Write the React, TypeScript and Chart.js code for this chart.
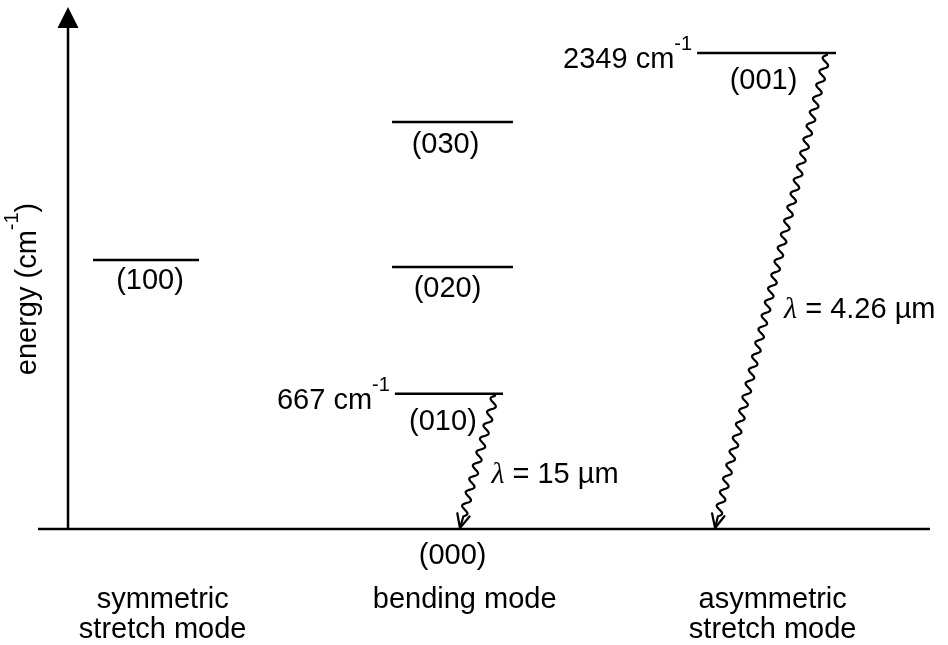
import React, { useEffect, useRef } from 'react';
import { Chart, registerables } from 'chart.js';

Chart.register(...registerables);

// ---------- data ----------
const levelNames = ['(000)', '(100)', '(010)', '(020)', '(030)', '(001)'];
const levelModes = [1, 0, 1, 1, 1, 2]; // 0 symmetric stretch, 1 bending, 2 asymmetric stretch
const levelEnergies = [0, 1328, 667, 1293, 2008, 2349]; // cm^-1 (as drawn)
const energyLabels = ['', '', '667', '', '', '2349'];
const modeLabels = [['symmetric', 'stretch mode'], ['bending mode'], ['asymmetric', 'stretch mode']];
const transitionFrom = ['(010)', '(001)'];
const transitionTo = ['(000)', '(000)'];
const wavelengths = ['15', '4.26']; // µm
const axisTitle = 'energy (cm';

// ---------- style / layout ----------
const FONT = "'Liberation Sans', Arial, Helvetica, sans-serif";
const FS = 29;
const SUP_FS = 20;
const X_MIN = -0.4667;
const X_MAX = 2.5914;
const Y_MIN = -572.5;
const Y_MAX = 2610.5;
const AXIS_X = -0.2473;
const AXIS_TOP = 2576;
const LEVEL_SPAN: Record<string, [number, number]> = {
  '(000)': [-1.344, 1.533],
  '(100)': [-0.1667, 0.1753],
  '(010)': [-0.193, 0.156],
  '(020)': [-0.202, 0.188],
  '(030)': [-0.202, 0.188],
  '(001)': [-0.218, 0.23],
};
const LABEL_OFF: Record<string, [number, number]> = {
  '(000)': [-2, 35],
  '(100)': [4, 29.5],
  '(010)': [-6, 36],
  '(020)': [-5, 30.5],
  '(030)': [-7, 30.5],
  '(001)': [-3, 36],
};
// start / end x of each wavy arrow, relative to the mode of the upper level
const TRANS_X: Array<[number, number]> = [
  [0.13, 0.017],
  [0.201, -0.16],
];
const TRANS_LABEL_FRAC = [0.586, 0.535];
const MODE_LABEL_DX = [18, 10, 8];

function drawSupText(ctx: CanvasRenderingContext2D, main: string, sup: string, tail: string, x: number, y: number, align: 'left' | 'right' | 'center') {
  ctx.font = `${FS}px ${FONT}`;
  const w1 = ctx.measureText(main).width;
  ctx.font = `${SUP_FS}px ${FONT}`;
  const w2 = ctx.measureText(sup).width;
  ctx.font = `${FS}px ${FONT}`;
  const w3 = tail ? ctx.measureText(tail).width : 0;
  const total = w1 + w2 + w3;
  let sx = x;
  if (align === 'right') sx = x - total;
  if (align === 'center') sx = x - total / 2;
  ctx.textAlign = 'left';
  ctx.textBaseline = 'alphabetic';
  ctx.font = `${FS}px ${FONT}`;
  ctx.fillText(main, sx, y);
  ctx.font = `${SUP_FS}px ${FONT}`;
  ctx.fillText(sup, sx + w1, y - 18);
  if (tail) {
    ctx.font = `${FS}px ${FONT}`;
    ctx.fillText(tail, sx + w1 + w2, y);
  }
}

function drawWavyArrow(ctx: CanvasRenderingContext2D, x0: number, y0: number, x1: number, y1: number) {
  const dx = x1 - x0;
  const dy = y1 - y0;
  const L = Math.hypot(dx, dy);
  const ux = dx / L;
  const uy = dy / L;
  const nx = -uy;
  const ny = ux;
  const amp = 3.6;
  const waveLen = L - 12;
  const n = Math.max(1, Math.round(waveLen / 14));
  const period = waveLen / n;
  ctx.lineWidth = 2.2;
  ctx.lineJoin = 'round';
  ctx.lineCap = 'round';
  ctx.beginPath();
  ctx.moveTo(x0, y0);
  for (let s = 0; s <= waveLen; s += 0.5) {
    const a = amp * Math.sin((2 * Math.PI * s) / period);
    ctx.lineTo(x0 + ux * s + nx * a, y0 + uy * s + ny * a);
  }
  ctx.lineTo(x1, y1);
  ctx.stroke();
  const head = 15;
  const ang = (25 * Math.PI) / 180;
  ctx.beginPath();
  for (const sg of [-1, 1]) {
    const t = sg * ang;
    const bx = -ux * Math.cos(t) + uy * Math.sin(t);
    const by = -uy * Math.cos(t) - ux * Math.sin(t);
    ctx.moveTo(x1, y1);
    ctx.lineTo(x1 + bx * head, y1 + by * head);
  }
  ctx.stroke();
}

const diagramPlugin = {
  id: 'diagram',
  afterDatasetsDraw(chart: any) {
    const ctx: CanvasRenderingContext2D = chart.ctx;
    const xs = chart.scales.x;
    const ys = chart.scales.y;
    const X = (v: number) => xs.getPixelForValue(v);
    const Y = (v: number) => ys.getPixelForValue(v);
    ctx.save();
    ctx.fillStyle = '#000';
    ctx.strokeStyle = '#000';

    // vertical energy axis with arrow
    const ax = X(AXIS_X);
    const top = Y(AXIS_TOP);
    ctx.lineWidth = 2.5;
    ctx.beginPath();
    ctx.moveTo(ax, Y(0));
    ctx.lineTo(ax, top + 20);
    ctx.stroke();
    ctx.beginPath();
    ctx.moveTo(ax, top);
    ctx.lineTo(ax - 10.5, top + 21);
    ctx.lineTo(ax + 10.5, top + 21);
    ctx.closePath();
    ctx.fill();

    // axis title (rotated)
    ctx.save();
    ctx.translate(ax - 32, (Y(0) + top) / 2 + 21);
    ctx.rotate(-Math.PI / 2);
    drawSupText(ctx, axisTitle, '-1', ')', 0, 0, 'center');
    ctx.restore();

    // level labels and energy labels
    levelNames.forEach((name, i) => {
      const m = levelModes[i];
      const E = levelEnergies[i];
      const span = LEVEL_SPAN[name];
      const cx = X(m + (span[0] + span[1]) / 2);
      const [ldx, ldy] = LABEL_OFF[name];
      ctx.font = `${FS}px ${FONT}`;
      ctx.textAlign = 'center';
      ctx.textBaseline = 'alphabetic';
      ctx.fillText(name, (name === '(000)' ? X(m) : cx) + ldx, Y(E) + ldy);
      if (energyLabels[i]) {
        drawSupText(ctx, energyLabels[i] + ' cm', '-1', '', X(m + span[0]) - 5, Y(E) + 15, 'right');
      }
    });

    // radiative transitions (wavy arrows)
    transitionFrom.forEach((from, i) => {
      const a = levelNames.indexOf(from);
      const b = levelNames.indexOf(transitionTo[i]);
      const x0 = X(levelModes[a] + TRANS_X[i][0]);
      const y0 = Y(levelEnergies[a]) + 2;
      const x1 = X(levelModes[a] + TRANS_X[i][1]);
      const y1 = Y(levelEnergies[b]) - 1;
      drawWavyArrow(ctx, x0, y0, x1, y1);
      const f = TRANS_LABEL_FRAC[i];
      const lx = x0 + (x1 - x0) * f + 17;
      const ly = y0 + (y1 - y0) * f + 10;
      ctx.textAlign = 'left';
      ctx.textBaseline = 'alphabetic';
      ctx.font = `italic ${FS + 1}px 'Liberation Serif', 'DejaVu Serif', serif`;
      ctx.fillText('\u03BB', lx, ly);
      const wl = ctx.measureText('\u03BB').width;
      ctx.font = `${FS}px ${FONT}`;
      ctx.fillText(' = ' + wavelengths[i] + ' \u00B5m', lx + wl, ly);
    });

    // mode labels
    modeLabels.forEach((lines, m) => {
      ctx.font = `${FS}px ${FONT}`;
      ctx.textAlign = 'center';
      ctx.textBaseline = 'alphabetic';
      lines.forEach((t, k) => {
        ctx.fillText(t, X(m) + MODE_LABEL_DX[m], Y(0) + 79 + k * 30);
      });
    });

    ctx.restore();
  },
};

export default function App() {
  const ref = useRef<HTMLCanvasElement | null>(null);
  useEffect(() => {
    if (!ref.current) return;
    const datasets = levelNames.map((name, i) => {
      const m = levelModes[i];
      const span = LEVEL_SPAN[name];
      return {
        label: name,
        data: [
          { x: m + span[0], y: levelEnergies[i] },
          { x: m + span[1], y: levelEnergies[i] },
        ],
        borderColor: '#000',
        borderWidth: 2.5,
        pointRadius: 0,
        fill: false,
        tension: 0,
      };
    });
    const chart = new Chart(ref.current, {
      type: 'line',
      data: { datasets },
      options: {
        animation: false,
        responsive: false,
        maintainAspectRatio: false,
        layout: { padding: 0 },
        plugins: { legend: { display: false }, tooltip: { enabled: false } },
        scales: {
          x: { type: 'linear', min: X_MIN, max: X_MAX, display: false },
          y: { type: 'linear', min: Y_MIN, max: Y_MAX, display: false },
        },
      },
      plugins: [diagramPlugin],
    });
    return () => chart.destroy();
  }, []);
  return (
    <div style={{ position: 'absolute', left: 0, top: 0, width: 948, height: 645, background: '#fff' }}>
      <canvas ref={ref} width={948} height={645} style={{ display: 'block' }} />
    </div>
  );
}
